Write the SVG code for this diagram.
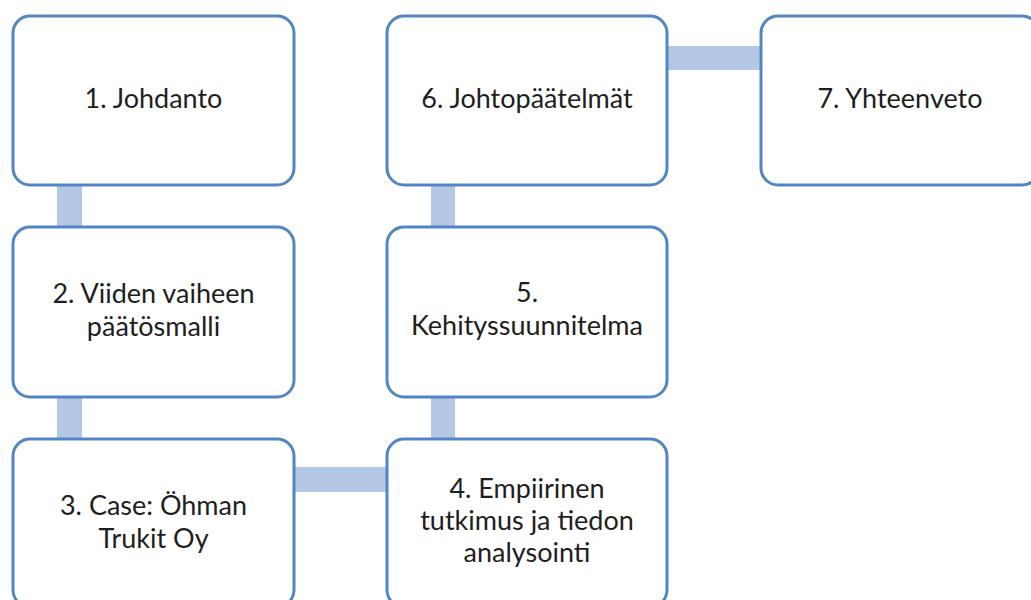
<svg xmlns="http://www.w3.org/2000/svg" width="1031" height="600" viewBox="0 0 1031 600">
<style>
.box{fill:#ffffff;stroke:#5285C1;stroke-width:3}
.con{fill:#B4C8E6}
.t{font-family:Lato,"Open Sans","Liberation Sans",sans-serif;font-size:27px;fill:#1e1e1e;text-anchor:middle}
</style>
<rect width="1031" height="600" fill="#ffffff"/>
<g id="connectors">
<rect class="con" x="57" y="184" width="25" height="44"/>
<rect class="con" x="57" y="396" width="25" height="44"/>
<rect class="con" x="294" y="467" width="94" height="25"/>
<rect class="con" x="431" y="396" width="24" height="44"/>
<rect class="con" x="431" y="184" width="24" height="44"/>
<rect class="con" x="666" y="46" width="96" height="24"/>
</g>
<g id="node1">
<rect class="box" x="13" y="16" width="281" height="169" rx="17"/>
<text class="t" x="153.5" y="108">1. Johdanto</text>
</g>
<g id="node2">
<rect class="box" x="13" y="227" width="281" height="170" rx="17"/>
<text class="t" x="153.5" y="303">2. Viiden vaiheen</text>
<text class="t" x="153.5" y="336">päätösmalli</text>
</g>
<g id="node3">
<rect class="box" x="13" y="439" width="281" height="168" rx="17"/>
<text class="t" x="153.5" y="515">3. Case: Öhman</text>
<text class="t" x="153.5" y="548">Trukit Oy</text>
</g>
<g id="node4">
<rect class="box" x="387" y="439" width="280" height="168" rx="17"/>
<text class="t" x="527" y="498">4. Empiirinen</text>
<text class="t" x="527" y="530">tutkimus ja tiedon</text>
<text class="t" x="527" y="562">analysointi</text>
</g>
<g id="node5">
<rect class="box" x="387" y="227" width="280" height="170" rx="17"/>
<text class="t" x="527" y="302">5.</text>
<text class="t" x="527" y="335">Kehityssuunnitelma</text>
</g>
<g id="node6">
<rect class="box" x="387" y="16" width="280" height="169" rx="17"/>
<text class="t" x="527" y="108">6. Johtopäätelmät</text>
</g>
<g id="node7">
<rect class="box" x="761" y="16" width="278" height="169" rx="17"/>
<text class="t" x="900" y="108">7. Yhteenveto</text>
</g>
</svg>
